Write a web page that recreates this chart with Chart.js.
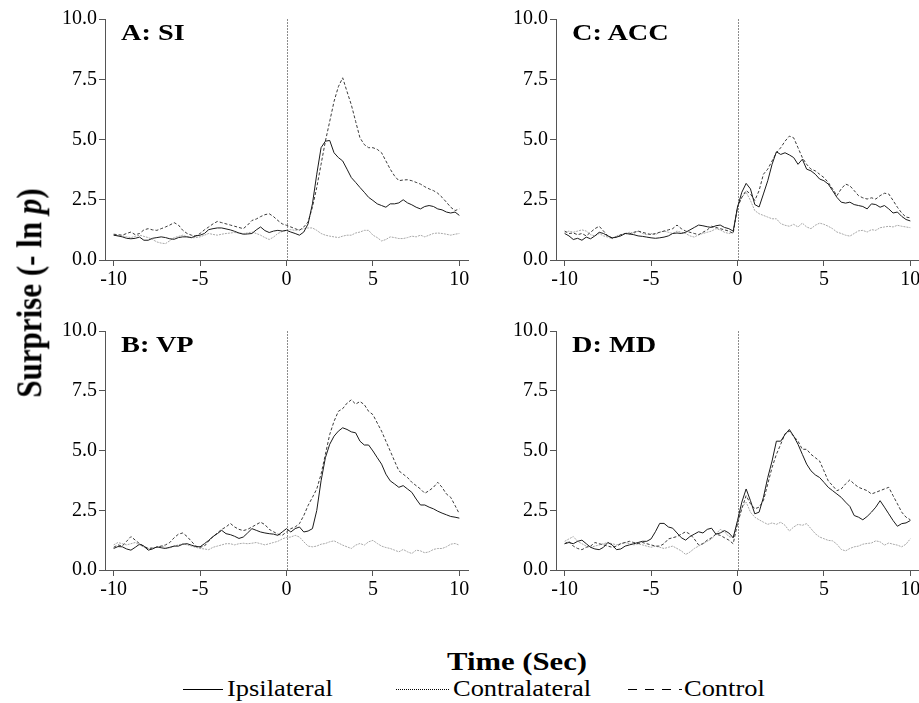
<!DOCTYPE html>
<html>
<head>
<meta charset="utf-8">
<script src="https://cdn.jsdelivr.net/npm/chart.js@4.4.1/dist/chart.umd.min.js"></script>
<style>
  html, body { margin: 0; padding: 0; background: #fff; overflow: hidden; }
  body { width: 919px; height: 703px; position: relative; font-family: "Liberation Serif", "Times New Roman", serif; color: #000; }
  .panel { position: absolute; }
  .tag { position: absolute; font-weight: bold; font-size: 24px; line-height: 24px; white-space: nowrap;
         transform: scaleX(1.18); transform-origin: left top; }
  .ytitle { position: absolute; left: 30px; top: 293px; font-weight: bold; font-size: 31px; white-space: nowrap;
            transform: translate(-50%, -50%) rotate(-90deg) scaleY(1.15); }
  .xtitle { position: absolute; left: 517px; top: 662px; font-weight: bold; font-size: 26px; white-space: nowrap;
            transform: translate(-50%, -50%) scaleX(1.18); }
  .leg { position: absolute; top: 689px; font-size: 23px; white-space: nowrap;
         transform: translateY(-50%) scaleX(1.15); transform-origin: left center; }
  .swatch { position: absolute; top: 685px; }
</style>
</head>
<body>
<div class="panel" style="left:40px;top:5px;width:440px;height:290px"><canvas id="chartA"></canvas></div>
<div class="panel" style="left:491px;top:5px;width:440px;height:290px"><canvas id="chartC"></canvas></div>
<div class="panel" style="left:40px;top:317px;width:440px;height:288px"><canvas id="chartB"></canvas></div>
<div class="panel" style="left:491px;top:317px;width:440px;height:288px"><canvas id="chartD"></canvas></div>

<div class="tag" style="left:121px;top:20px">A: SI</div>
<div class="tag" style="left:572px;top:20px">C: ACC</div>
<div class="tag" style="left:121px;top:332px">B: VP</div>
<div class="tag" style="left:572px;top:332px">D: MD</div>

<div class="ytitle">Surprise (- ln <i>p</i>)</div>
<div class="xtitle">Time (Sec)</div>

<svg class="swatch" style="left:183px" width="40" height="8"><line x1="0" y1="4.5" x2="40" y2="4.5" stroke="#000" stroke-width="1"/></svg>
<div class="leg" style="left:227px">Ipsilateral</div>
<svg class="swatch" style="left:396px" width="54" height="8"><line x1="0" y1="4.5" x2="54" y2="4.5" stroke="#000" stroke-width="1" stroke-dasharray="1,1"/></svg>
<div class="leg" style="left:453px">Contralateral</div>
<svg class="swatch" style="left:628px" width="54" height="8"><line x1="0" y1="4.5" x2="54" y2="4.5" stroke="#000" stroke-width="1" stroke-dasharray="9,8"/></svg>
<div class="leg" style="left:684px">Control</div>

<script>
// time axis (sec), 0.25 s steps
const times = [
  -10, -9.75, -9.5, -9.25, -9, -8.75, -8.5, -8.25, -8, -7.75,
  -7.5, -7.25, -7, -6.75, -6.5, -6.25, -6, -5.75, -5.5, -5.25,
  -5, -4.75, -4.5, -4.25, -4, -3.75, -3.5, -3.25, -3, -2.75,
  -2.5, -2.25, -2, -1.75, -1.5, -1.25, -1, -0.75, -0.5, -0.25,
  0, 0.25, 0.5, 0.75, 1, 1.25, 1.5, 1.75, 2, 2.25,
  2.5, 2.75, 3, 3.25, 3.5, 3.75, 4, 4.25, 4.5, 4.75,
  5, 5.25, 5.5, 5.75, 6, 6.25, 6.5, 6.75, 7, 7.25,
  7.5, 7.75, 8, 8.25, 8.5, 8.75, 9, 9.25, 9.5, 9.75, 10
];
const xTicks = [-10, -5, 0, 5, 10];
const yTicks = [0, 2.5, 5, 7.5, 10];
const seriesNames = ['Ipsilateral', 'Contralateral', 'Control'];

// A: SI
const aIpsi = [1.03,1.0,0.96,0.9,0.88,0.9,0.95,0.82,0.82,0.9, 0.93,0.96,0.93,0.88,0.86,0.93,0.96,0.96,0.93,1.0,
  1.03,1.1,1.26,1.3,1.33,1.33,1.29,1.25,1.19,1.12, 1.07,1.08,1.1,1.25,1.37,1.22,1.14,1.2,1.23,1.2,
  1.23,1.16,1.1,1.03,1.16,1.5,2.33,3.56,4.66,4.93, 4.96,4.45,4.25,4.11,3.77,3.42,3.22,3.01,2.81,2.6,
  2.47,2.33,2.26,2.19,2.33,2.33,2.37,2.5,2.37,2.29, 2.19,2.12,2.22,2.26,2.22,2.12,2.08,1.99,1.95,1.99, 1.85];
const aContra = [1.07,1.05,1.03,1.1,1.16,1.05,1.1,1.25,1.3,1.25, 1.23,1.3,1.37,1.45,1.55,1.45,1.23,1.1,1.03,1.0,
  1.1,1.25,1.37,1.5,1.6,1.55,1.5,1.45,1.4,1.35, 1.3,1.45,1.64,1.7,1.8,1.88,1.92,1.8,1.64,1.5,
  1.44,1.37,1.3,1.23,1.37,1.58,2.19,3.01,3.97,4.93, 5.75,6.58,7.19,7.56,6.99,6.44,5.75,5.07,4.79,4.66,
  4.66,4.59,4.45,4.11,3.77,3.49,3.29,3.32,3.33,3.29, 3.22,3.15,3.04,2.95,2.88,2.77,2.6,2.4,2.19,2.05, 2.12];
const aControl = [1.03,1.0,1.0,0.96,0.93,0.98,1.03,0.98,0.93,0.85, 0.75,0.7,0.68,0.8,0.93,0.98,1.03,0.96,0.92,0.93,
  0.96,1.03,1.1,1.06,1.03,1.07,1.1,1.12,1.14,1.12, 1.1,1.12,1.16,1.1,1.03,0.93,0.85,0.95,1.1,1.18,
  1.23,1.26,1.23,1.26,1.3,1.33,1.33,1.23,1.1,1.03, 0.99,0.96,0.93,0.99,1.03,1.03,1.12,1.16,1.23,1.23,
  1.03,0.93,0.79,0.85,0.96,0.93,0.89,0.89,0.93,0.99, 0.96,1.03,0.96,1.03,1.1,1.12,1.1,1.07,1.03,1.07, 1.1];

// B: VP
const bIpsi = [0.9,0.98,0.97,0.88,0.83,0.95,1.08,1.0,0.83,0.88, 0.97,0.93,0.9,0.95,1.0,1.0,1.08,1.1,1.04,0.98,
  0.97,1.1,1.24,1.4,1.52,1.66,1.52,1.48,1.41,1.32, 1.38,1.55,1.73,1.66,1.59,1.55,1.52,1.5,1.45,1.59,
  1.73,1.59,1.73,1.8,1.59,1.63,1.73,2.49,3.73,4.7, 5.26,5.6,5.81,5.95,5.88,5.78,5.74,5.39,5.23,5.23,
  4.98,4.7,4.43,4.01,3.73,3.6,3.46,3.53,3.39,3.25, 2.97,2.72,2.72,2.63,2.56,2.46,2.38,2.31,2.24,2.21, 2.17];
const bContra = [0.95,1.05,1.0,1.2,1.4,1.25,1.1,1.0,0.9,0.92, 0.95,1.0,1.05,1.15,1.35,1.5,1.55,1.4,1.2,1.0,
  0.95,1.0,1.2,1.4,1.55,1.7,1.8,1.95,1.8,1.7, 1.65,1.7,1.8,1.9,2.0,1.9,1.7,1.6,1.5,1.45,
  1.59,1.73,1.8,1.94,2.28,2.7,3.04,3.39,4.01,4.84, 5.67,6.22,6.64,6.75,6.98,7.12,6.94,7.05,6.92,6.64,
  6.5,6.15,5.81,5.39,4.98,4.56,4.15,4.01,3.87,3.67, 3.53,3.39,3.21,3.32,3.46,3.67,3.46,3.18,3.04,2.7, 2.35];
const bControl = [1.05,1.15,1.1,1.05,1.1,1.15,1.05,0.95,0.9,0.92, 0.95,1.0,0.95,0.92,1.0,1.05,1.1,1.05,1.0,0.95,
  0.9,0.88,0.85,0.95,1.0,1.05,1.1,1.1,1.05,1.1, 1.12,1.1,1.12,1.15,1.1,1.05,1.1,1.15,1.2,1.3,
  1.36,1.38,1.45,1.38,1.18,1.0,0.97,1.0,1.08,1.11, 1.18,1.22,1.13,1.04,0.97,0.9,1.04,1.11,1.04,1.18,
  1.24,1.11,1.0,0.94,0.9,0.83,0.76,0.86,0.76,0.69, 0.83,0.8,0.72,0.76,0.86,0.9,0.9,0.97,1.08,1.11, 1.04];

// C: ACC
const cIpsi = [1.1,1.0,0.85,0.9,0.82,0.95,0.88,1.0,1.15,1.1, 1.0,0.92,0.95,1.0,1.1,1.08,1.05,1.0,0.98,0.95,
  0.92,0.9,0.92,0.95,1.0,1.1,1.12,1.1,1.15,1.25, 1.35,1.45,1.42,1.38,1.35,1.42,1.45,1.35,1.3,1.2,
  2.19,2.81,3.18,2.95,2.3,2.2,2.74,3.29,3.97,4.49, 4.38,4.45,4.36,4.25,3.97,4.18,3.77,3.7,3.56,3.36,
  3.29,3.15,2.88,2.6,2.4,2.36,2.4,2.3,2.26,2.22, 2.12,2.33,2.3,2.19,2.26,2.12,1.95,1.99,1.81,1.68, 1.62];
const cContra = [1.2,1.1,1.12,1.05,1.1,1.0,1.15,1.3,1.4,1.2, 1.0,0.9,0.95,1.05,1.1,1.08,1.15,1.2,1.15,1.1,
  1.05,1.1,1.15,1.2,1.25,1.3,1.45,1.3,1.2,1.15, 1.1,1.05,1.15,1.25,1.4,1.35,1.3,1.25,1.2,1.1,
  2.19,2.6,2.88,2.74,2.47,2.88,3.56,3.77,4.11,4.45, 4.66,4.93,5.14,5.07,4.66,4.25,3.97,3.77,3.7,3.56,
  3.42,3.22,2.95,2.67,2.95,3.15,3.08,2.88,2.67,2.58, 2.53,2.58,2.53,2.67,2.77,2.74,2.47,2.19,1.95,1.78, 1.75];
const cControl = [1.15,1.2,1.15,1.2,1.25,1.2,1.05,1.0,1.1,1.0, 0.95,0.88,1.0,1.05,1.1,1.15,1.1,1.2,1.1,1.05,
  1.1,1.05,1.15,1.2,1.15,1.1,1.2,1.15,1.1,1.0, 0.95,1.05,1.1,1.15,1.2,1.3,1.25,1.15,1.1,1.15,
  2.19,2.6,2.81,2.47,2.05,1.92,1.85,1.78,1.71,1.71, 1.51,1.44,1.4,1.48,1.37,1.53,1.37,1.3,1.44,1.53,
  1.48,1.4,1.3,1.16,1.1,1.03,0.99,1.1,1.21,1.23, 1.16,1.26,1.23,1.34,1.37,1.4,1.37,1.44,1.4,1.37, 1.34];

// D: MD
const dIpsi = [1.1,1.15,1.1,1.2,1.25,1.1,0.95,0.88,0.85,0.95, 1.15,1.05,0.85,0.88,1.0,1.05,1.1,1.15,1.2,1.2,
  1.3,1.6,1.95,1.95,1.8,1.75,1.55,1.35,1.25,1.4, 1.5,1.6,1.55,1.7,1.75,1.5,1.55,1.65,1.55,1.35,
  2.07,2.84,3.39,2.9,2.35,2.42,3.04,3.87,4.56,5.39, 5.39,5.67,5.88,5.6,5.26,4.84,4.43,4.15,3.98,3.87,
  3.67,3.46,3.32,3.18,3.04,2.84,2.66,2.28,2.21,2.1, 2.24,2.42,2.63,2.9,2.63,2.35,2.07,1.83,1.94,1.97, 2.07];
const dContra = [1.1,1.2,1.0,0.9,0.85,0.95,1.0,1.15,1.1,1.05, 1.0,0.95,1.0,1.1,1.15,1.2,1.15,1.1,1.15,1.1,
  1.05,1.0,1.0,1.1,1.3,1.35,1.4,1.5,1.6,1.5, 1.3,1.05,1.1,1.25,1.35,1.5,1.45,1.35,1.25,1.1,
  1.94,2.56,3.11,2.77,2.56,2.63,2.9,3.6,4.29,4.84, 5.26,5.7,5.81,5.6,5.39,5.05,5.05,4.84,4.7,4.56,
  4.15,3.73,3.53,3.32,3.39,3.6,3.77,3.6,3.46,3.39, 3.32,3.18,3.25,3.32,3.39,3.46,3.11,2.77,2.42,2.21, 2.1];
const dControl = [1.2,1.3,1.4,1.2,1.1,1.0,0.95,1.0,1.05,1.1, 1.15,1.1,1.05,1.1,1.15,1.1,1.05,1.1,1.05,1.0,
  0.95,1.0,0.95,0.9,0.95,1.0,0.9,0.8,0.65,0.75, 0.9,1.0,1.1,1.2,1.3,1.5,1.7,1.6,1.4,1.35,
  1.94,2.63,2.84,2.42,2.21,2.1,2.0,1.91,1.97,1.91, 2.0,1.87,1.63,1.8,1.91,1.87,1.94,1.73,1.52,1.38,
  1.31,1.24,1.22,1.08,0.86,0.8,0.9,0.97,1.0,1.08, 1.11,1.13,1.22,1.18,1.04,1.13,1.08,1.04,0.97,1.08, 1.31];

const lineStyles = [
  { borderColor: '#1a1a1a', borderDash: [] },
  { borderColor: '#3a3a3a', borderDash: [3, 2] },
  { borderColor: '#a8a8a8', borderDash: [2, 1] }
];

// dotted vertical marker at t = 0
const zeroLine = {
  id: 'zeroLine',
  beforeDatasetsDraw(chart) {
    const { ctx, chartArea, scales } = chart;
    const px = Math.round(scales.x.getPixelForValue(0)) + 0.5;
    ctx.save();
    ctx.strokeStyle = '#8c8c8c';
    ctx.lineWidth = 1;
    ctx.setLineDash([2, 1]);
    ctx.beginPath();
    ctx.moveTo(px, chartArea.top);
    ctx.lineTo(px, chartArea.bottom);
    ctx.stroke();
    ctx.restore();
  }
};

const tickFont = { family: '"Liberation Serif", serif', size: 20 };

function makePanel(id, series) {
  const datasets = series.map((vals, i) => ({
    label: seriesNames[i],
    data: times.map((t, k) => ({ x: t, y: vals[k] })),
    borderWidth: 1,
    pointRadius: 0,
    tension: 0,
    fill: false,
    ...lineStyles[i]
  }));
  new Chart(document.getElementById(id), {
    type: 'line',
    data: { datasets: datasets },
    plugins: [zeroLine],
    options: {
      responsive: true,
      maintainAspectRatio: false,
      animation: false,
      layout: { padding: { top: 12, right: 12, left: 0, bottom: 0 } },
      plugins: { legend: { display: false }, tooltip: { enabled: false } },
      scales: {
        x: {
          type: 'linear',
          min: -10.5,
          max: 10.5,
          afterBuildTicks: s => { s.ticks = xTicks.map(v => ({ value: v })); },
          afterFit: s => { s.height = 35; },
          grid: { drawOnChartArea: false, drawTicks: true, tickLength: 6, color: '#555' },
          border: { display: true, color: '#555', width: 1 },
          ticks: { color: '#000', font: tickFont, padding: 2, maxRotation: 0 }
        },
        y: {
          min: 0,
          max: 10,
          afterBuildTicks: s => { s.ticks = yTicks.map(v => ({ value: v })); },
          afterFit: s => { s.width = 65; },
          grid: { drawOnChartArea: false, drawTicks: true, tickLength: 6, color: '#555' },
          border: { display: true, color: '#555', width: 1 },
          ticks: { color: '#000', font: tickFont, padding: 2, callback: v => Number(v).toFixed(1) }
        }
      }
    }
  });
}

makePanel('chartA', [aIpsi, aContra, aControl]);
makePanel('chartC', [cIpsi, cContra, cControl]);
makePanel('chartB', [bIpsi, bContra, bControl]);
makePanel('chartD', [dIpsi, dContra, dControl]);
</script>
</body>
</html>
